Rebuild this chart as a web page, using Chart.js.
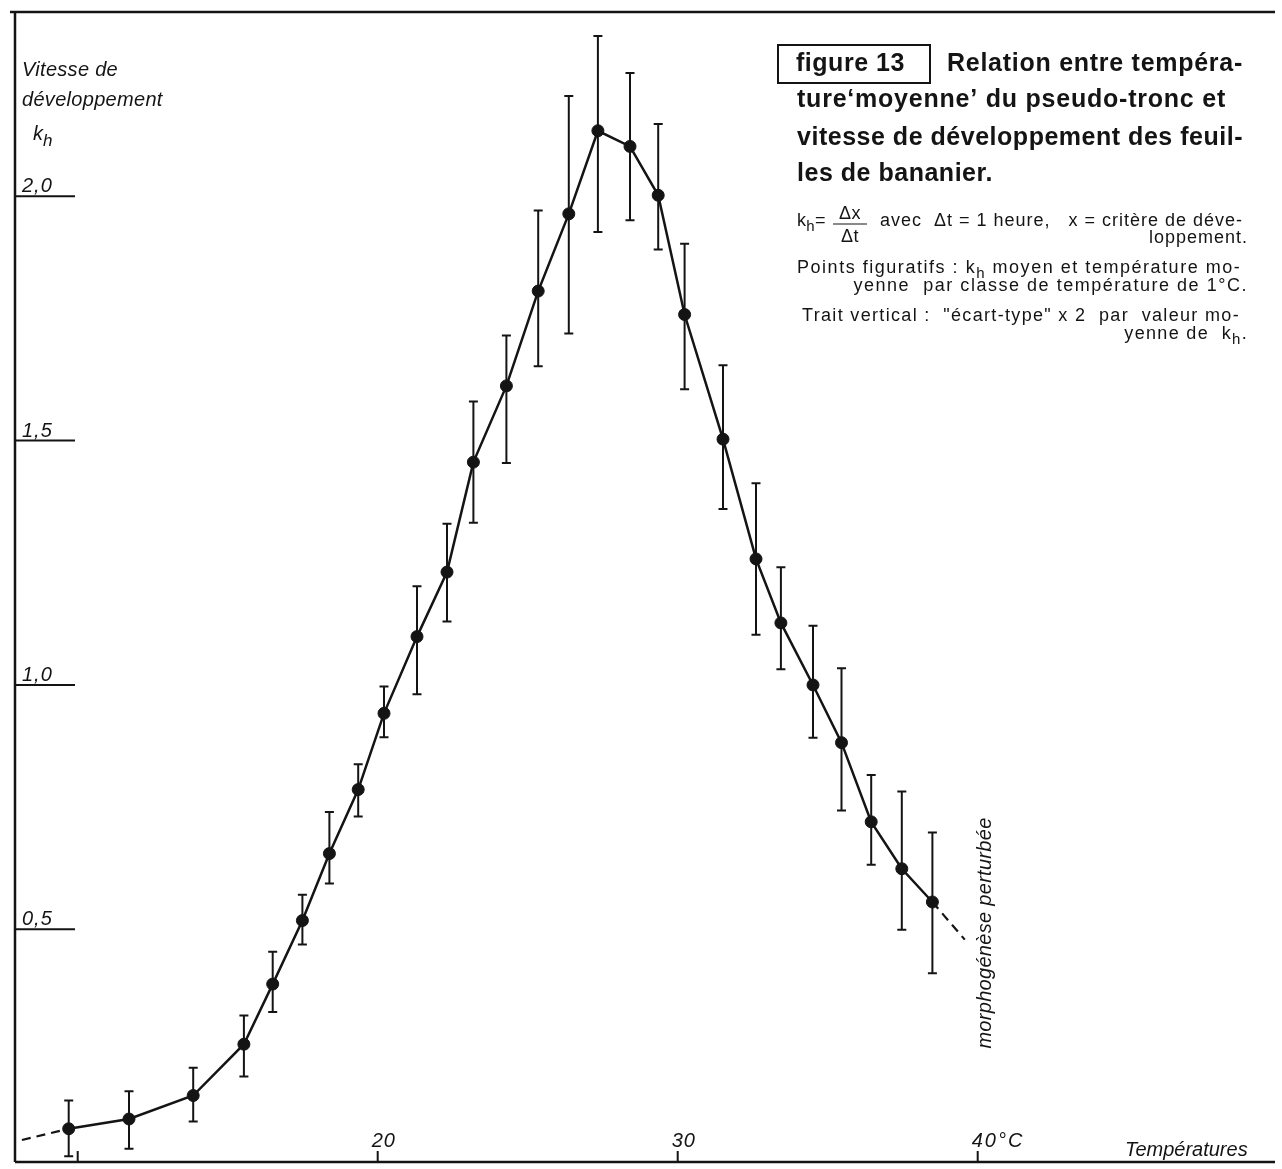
<!DOCTYPE html>
<html>
<head>
<meta charset="utf-8">
<script src="https://cdn.jsdelivr.net/npm/chart.js@4.4.1/dist/chart.umd.min.js"></script>
<style>
  html, body { margin: 0; padding: 0; background: #fff; }
  canvas { display: block; }
</style>
</head>
<body>
<canvas id="devChart" width="1282" height="1169"></canvas>
<script>
// ===== DATA =====
// mean temperature per 1°C class (°C) and mean kh
const temperatures = [9.70, 11.71, 13.85, 15.54, 16.50, 17.49, 18.39, 19.35, 20.21, 21.31,
                      22.31, 23.19, 24.29, 25.35, 26.37, 27.34, 28.41, 29.35, 30.23, 31.51,
                      32.61, 33.44, 34.51, 35.46, 36.45, 37.47, 38.49];
const khMeans = [0.092, 0.112, 0.160, 0.265, 0.388, 0.518, 0.655, 0.786, 0.942, 1.099,
                 1.231, 1.456, 1.612, 1.806, 1.964, 2.134, 2.102, 2.002, 1.758, 1.503,
                 1.258, 1.127, 1.000, 0.882, 0.720, 0.624, 0.556];
// ends of the vertical bars ("écart-type" x 2)
const barTops = [0.150, 0.169, 0.217, 0.324, 0.454, 0.571, 0.740, 0.838, 0.997, 1.202,
                 1.330, 1.580, 1.715, 1.971, 2.205, 2.328, 2.252, 2.148, 1.903, 1.654,
                 1.413, 1.241, 1.121, 1.034, 0.816, 0.782, 0.698];
const barBottoms = [0.036, 0.051, 0.107, 0.199, 0.331, 0.469, 0.594, 0.731, 0.893, 0.981,
                    1.130, 1.332, 1.454, 1.652, 1.719, 1.927, 1.951, 1.891, 1.605, 1.360,
                    1.103, 1.032, 0.892, 0.743, 0.632, 0.499, 0.410];
// dashed extrapolations at both ends
const dashLowT = [8.14, 9.70];
const dashLowK = [0.069, 0.092];
const dashHighT = [38.49, 39.57];
const dashHighK = [0.556, 0.479];

const xTickValues = [10, 20, 30, 40];
const xTickLabels = ['', '20', '30', '40°C'];
const yTickValues = [0.5, 1.0, 1.5, 2.0];
const yTickLabels = ['0,5', '1,0', '1,5', '2,0'];
const xRange = [7.91, 49.91];
const yRange = [0.024, 2.377];

const INK = '#141414';
const SANS = '"Liberation Sans", Arial, sans-serif';

function toPoints(xs, ys) {
    return xs.map((x, i) => ({ x: x, y: ys[i] }));
}

// letter spacing that makes text fill a given width
function spacingFor(ctx, font, text, width) {
    ctx.font = font;
    ctx.letterSpacing = '0px';
    const w = ctx.measureText(text).width;
    return Math.max(0, (width - w) / text.length);
}

// draw text made of pieces, some of them subscripts
function drawRich(ctx, parts, x, y, size, align, spacing) {
    ctx.letterSpacing = spacing + 'px';
    let total = 0;
    parts.forEach(p => {
        ctx.font = (p.sub ? Math.round(size * 0.85) : size) + 'px ' + SANS;
        p.w = ctx.measureText(p.t).width;
        total += p.w;
    });
    let cx = align === 'right' ? x - total : x;
    ctx.textAlign = 'left';
    parts.forEach(p => {
        ctx.font = (p.sub ? Math.round(size * 0.85) : size) + 'px ' + SANS;
        ctx.fillText(p.t, cx, p.sub ? y + size * 0.3 : y);
        cx += p.w;
    });
}

// ===== FRAME, TICKS, ERROR BARS, TEXT =====
const figurePlugin = {
    id: 'figurePlugin',
    beforeDatasetsDraw(chart) {
        const { ctx, chartArea, scales } = chart;
        const xs = scales.x, ys = scales.y;
        ctx.save();
        ctx.strokeStyle = INK;
        ctx.fillStyle = INK;
        ctx.lineCap = 'butt';
        ctx.textBaseline = 'alphabetic';

        // frame
        ctx.lineWidth = 2.5;
        ctx.beginPath();
        ctx.moveTo(chartArea.left - 5, chartArea.top);
        ctx.lineTo(chartArea.right, chartArea.top);
        ctx.moveTo(chartArea.left, chartArea.top);
        ctx.lineTo(chartArea.left, chartArea.bottom);
        ctx.moveTo(chartArea.left, chartArea.bottom);
        ctx.lineTo(chartArea.right, chartArea.bottom);
        ctx.stroke();

        // y ticks: inward lines with the value above
        const italic = 'italic 20px ' + SANS;
        ctx.lineWidth = 2;
        ctx.font = italic;
        ctx.letterSpacing = '1px';
        ctx.textAlign = 'left';
        yTickValues.forEach((v, i) => {
            const py = ys.getPixelForValue(v);
            ctx.beginPath();
            ctx.moveTo(chartArea.left, py);
            ctx.lineTo(chartArea.left + 60, py);
            ctx.stroke();
            ctx.fillText(yTickLabels[i], chartArea.left + 7, py - 4);
        });

        // x ticks: short upward marks with labels above
        xTickValues.forEach((v, i) => {
            const px = xs.getPixelForValue(v);
            ctx.beginPath();
            ctx.moveTo(px, chartArea.bottom);
            ctx.lineTo(px, chartArea.bottom - 11);
            ctx.stroke();
            if (xTickLabels[i]) {
                ctx.letterSpacing = xTickLabels[i].length > 2 ? '2px' : '1px';
                ctx.fillText(xTickLabels[i], px - 6, chartArea.bottom - 15);
            }
        });
        ctx.letterSpacing = '0px';
        ctx.fillText('Températures', 1125, chartArea.bottom - 6);

        // y axis title
        ctx.letterSpacing = '0.3px';
        ctx.fillText('Vitesse de', 22, 76);
        ctx.fillText('développement', 22, 106);
        ctx.fillText('k', 33, 140);
        ctx.font = 'italic 17px ' + SANS;
        ctx.fillText('h', 43, 146);

        // rotated note at the dashed end
        ctx.save();
        ctx.translate(991, 933);
        ctx.rotate(-Math.PI / 2);
        ctx.font = 'italic 20px ' + SANS;
        ctx.letterSpacing = '0.3px';
        ctx.textAlign = 'center';
        ctx.fillText('morphogénèse perturbée', 0, 0);
        ctx.restore();

        // error bars
        ctx.lineWidth = 2;
        temperatures.forEach((t, i) => {
            const px = xs.getPixelForValue(t);
            const top = ys.getPixelForValue(barTops[i]);
            const bot = ys.getPixelForValue(barBottoms[i]);
            ctx.beginPath();
            ctx.moveTo(px, top);
            ctx.lineTo(px, bot);
            ctx.moveTo(px - 4.5, top);
            ctx.lineTo(px + 4.5, top);
            ctx.moveTo(px - 4.5, bot);
            ctx.lineTo(px + 4.5, bot);
            ctx.stroke();
        });

        // caption block
        ctx.lineWidth = 2;
        ctx.strokeRect(778, 45, 152, 38);
        const bold = 'bold 25px ' + SANS;
        ctx.textAlign = 'left';
        const t1 = 'Relation entre tempéra-';
        const t2 = 'ture‘moyenne’ du pseudo-tronc et';
        const t3 = 'vitesse de développement des feuil-';
        const s1 = spacingFor(ctx, bold, t1, 296);
        const s2 = spacingFor(ctx, bold, t2, 429);
        const s3 = spacingFor(ctx, bold, t3, 446);
        ctx.letterSpacing = s3 + 'px';
        ctx.fillText('figure 13', 796, 71);
        ctx.letterSpacing = s1 + 'px';
        ctx.fillText(t1, 947, 71);
        ctx.letterSpacing = s2 + 'px';
        ctx.fillText(t2, 797, 107);
        ctx.letterSpacing = s3 + 'px';
        ctx.fillText(t3, 797, 145);
        ctx.fillText('les de bananier.', 797, 181);

        const fs = 18;
        const plain = fs + 'px ' + SANS;
        const a1 = 'avec  Δt = 1 heure,   x = critère de déve-';
        const a2 = 'Points figuratifs : kh moyen et température mo-';
        const a3 = 'Trait vertical :  "écart-type" x 2  par  valeur mo-';
        const sa1 = spacingFor(ctx, plain, a1, 1243 - 880);
        const sa2 = spacingFor(ctx, plain, a2, 1243 - 797);
        const sa3 = spacingFor(ctx, plain, a3, 1240 - 802);

        drawRich(ctx, [{ t: 'k' }, { t: 'h', sub: true }, { t: '=' }], 797, 226, fs, 'left', 0.3);
        ctx.font = plain;
        ctx.letterSpacing = '0.5px';
        ctx.textAlign = 'center';
        ctx.fillText('Δx', 850, 219);
        ctx.fillText('Δt', 850, 242);
        ctx.lineWidth = 1.2;
        ctx.beginPath();
        ctx.moveTo(833, 224);
        ctx.lineTo(867, 224);
        ctx.stroke();
        ctx.textAlign = 'left';
        ctx.letterSpacing = sa1 + 'px';
        ctx.fillText(a1, 880, 226);
        ctx.textAlign = 'right';
        ctx.fillText('loppement.', 1248, 243);
        drawRich(ctx, [{ t: 'Points figuratifs : k' }, { t: 'h', sub: true },
                       { t: ' moyen et température mo-' }], 797, 273, fs, 'left', sa2);
        ctx.font = plain;
        ctx.textAlign = 'right';
        ctx.fillText('yenne  par classe de température de 1°C.', 1248, 291);
        ctx.textAlign = 'left';
        ctx.letterSpacing = sa3 + 'px';
        ctx.fillText(a3, 802, 321);
        drawRich(ctx, [{ t: 'yenne de  k' }, { t: 'h', sub: true }, { t: '.' }], 1248, 339, fs, 'right', sa3);
        ctx.letterSpacing = '0px';
        ctx.restore();
    }
};

// ===== CHART =====
const devChart = new Chart(document.getElementById('devChart'), {
    type: 'line',
    data: {
        datasets: [
            {
                label: 'kh moyen',
                data: toPoints(temperatures, khMeans),
                borderColor: INK,
                borderWidth: 2.5,
                pointRadius: 6,
                pointBackgroundColor: INK,
                pointBorderColor: INK,
                pointBorderWidth: 1,
                tension: 0
            },
            {
                label: 'extrapolation basse',
                data: toPoints(dashLowT, dashLowK),
                borderColor: INK,
                borderWidth: 2.2,
                borderDash: [9, 6],
                pointRadius: 0,
                tension: 0
            },
            {
                label: 'extrapolation haute',
                data: toPoints(dashHighT, dashHighK),
                borderColor: INK,
                borderWidth: 2.2,
                borderDash: [9, 6],
                pointRadius: 0,
                tension: 0
            }
        ]
    },
    options: {
        responsive: false,
        animation: false,
        devicePixelRatio: 1,
        layout: { padding: { left: 15, top: 12, right: 0, bottom: 4 } },
        plugins: {
            legend: { display: false },
            tooltip: { enabled: false }
        },
        scales: {
            x: { type: 'linear', min: xRange[0], max: xRange[1], display: false },
            y: { type: 'linear', min: yRange[0], max: yRange[1], display: false }
        }
    },
    plugins: [figurePlugin]
});
</script>
</body>
</html>
